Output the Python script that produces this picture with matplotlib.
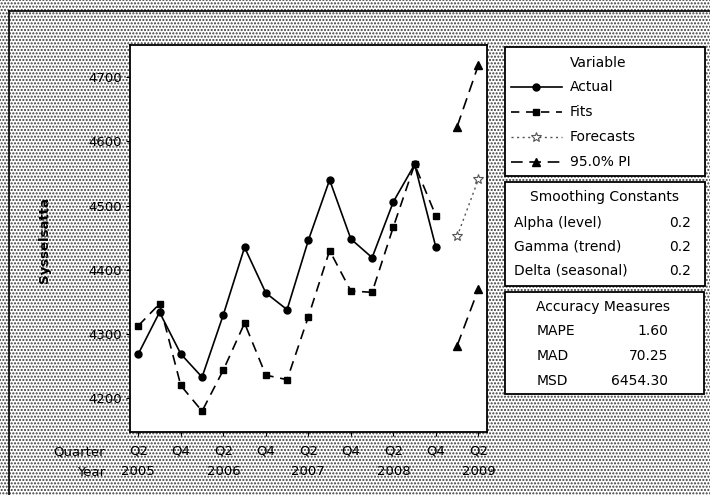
import matplotlib
matplotlib.use("Agg")
import matplotlib.pyplot as plt
from matplotlib.patches import Rectangle
from matplotlib.lines import Line2D

# ---- data ----
quarter_labels = ["Q2", "Q4", "Q2", "Q4", "Q2", "Q4", "Q2", "Q4", "Q2"]
year_labels = ["2005", "2006", "2007", "2008", "2009"]
actual = [4269, 4334, 4269, 4233, 4330, 4435, 4364, 4338, 4446,
          4540, 4448, 4419, 4506, 4564, 4435]
fits = [4313, 4347, 4220, 4180, 4244, 4317, 4236, 4229, 4327,
        4430, 4367, 4365, 4467, 4564, 4484]
forecasts = [4452, 4541]
pi_upper = [4623, 4719]
pi_lower = [4282, 4370]
y_ticks = [4200, 4300, 4400, 4500, 4600, 4700]
smoothing_names = ["Alpha (level)", "Gamma (trend)", "Delta (seasonal)"]
smoothing_values = ["0.2", "0.2", "0.2"]
accuracy_names = ["MAPE", "MAD", "MSD"]
accuracy_values = ["1.60", "70.25", "6454.30"]
legend_names = ["Actual", "Fits", "Forecasts", "95.0% PI"]

W, H = 710, 495
fig = plt.figure(figsize=(W / 100, H / 100), dpi=100)
fig.patch.set_facecolor("white")

def fx(px):
    return px / W

def fy(py):
    return 1 - py / H

# textured background
plt.rcParams["hatch.linewidth"] = 1.0
bg = Rectangle((0, 0), 1, 1, transform=fig.transFigure, facecolor="white",
               edgecolor="#3a3a3a", hatch=".....", lw=0, zorder=-10)
fig.add_artist(bg)
# outer frame lines (left and top)
fig.add_artist(Line2D([fx(9), fx(9)], [0, fy(11)], transform=fig.transFigure,
                      color="black", lw=1.2))
fig.add_artist(Line2D([fx(9), 1], [fy(11), fy(11)], transform=fig.transFigure,
                      color="black", lw=1.2))

ax = fig.add_axes([fx(130), fy(431.7), fx(486.7) - fx(130), fy(45) - fy(431.7)])
ax.set_facecolor("white")

n_act = len(actual)
x_act = list(range(n_act))
x_fc = [n_act + i for i in range(len(forecasts))]

ax.plot(x_act, actual, color="black", lw=1.2, marker="o", ms=5, zorder=3)
ax.plot(x_act, fits, color="black", lw=1.2, ls=(0, (6, 4)), marker="s", ms=5, zorder=3)
ax.plot(x_fc, forecasts, color="#555555", lw=1.0, ls=(0, (1.5, 2.5)), marker="*",
        ms=7, mfc="white", mec="#555555", mew=0.8, zorder=3)
ax.plot(x_fc, pi_upper, color="black", lw=1.2, ls=(0, (7, 4)), marker="^", ms=6, zorder=3)
ax.plot(x_fc, pi_lower, color="black", lw=1.2, ls=(0, (7, 4)), marker="^", ms=6, zorder=3)

ax.set_xlim(-0.39, 16.39)
ax.set_ylim(4148, 4750)
ax.set_yticks(y_ticks)
ax.set_yticklabels([str(v) for v in y_ticks], fontsize=9.5)
qpos = list(range(0, 2 * len(quarter_labels), 2))
ax.set_xticks(qpos)
ax.set_xticklabels(quarter_labels, fontsize=9.5)
ax.tick_params(axis="both", direction="out", length=3, width=0.8, pad=3)
ax.tick_params(axis="x", pad=6)
for s in ax.spines.values():
    s.set_linewidth(1.3)

# year labels under Q2 ticks
ypos = list(range(0, 2 * len(quarter_labels), 4))
for xp, yl in zip(ypos, year_labels):
    ax.text(xp, -0.103, yl, transform=ax.get_xaxis_transform(), ha="center",
            va="center", fontsize=9.5)
fig.text(fx(105), fy(452), "Quarter", ha="right", va="center", fontsize=9.5)
fig.text(fx(105), fy(472), "Year", ha="right", va="center", fontsize=9.5)

fig.text(fx(45), fy(240), "Sysselsatta", rotation=90, ha="center", va="center",
         fontsize=9.5, fontweight="bold")

# ---- legend boxes ----
def box(x0, y0, x1, y1):
    fig.add_artist(Rectangle((fx(x0), fy(y1)), fx(x1) - fx(x0), fy(y0) - fy(y1),
                             transform=fig.transFigure, facecolor="white",
                             edgecolor="black", lw=1.3, zorder=5))

box(505, 47, 705, 176)
box(505, 182, 705, 286)
box(505, 292, 704, 394)

fs = 10
fig.text(fx(598), fy(63), "Variable", ha="center", va="center", fontsize=fs, zorder=6)
rows_y = [87, 112, 137, 162]
styles = [
    dict(color="black", lw=1.2, ls="-", marker="o", ms=5),
    dict(color="black", lw=1.2, ls=(0, (5, 4)), marker="s", ms=5),
    dict(color="#555555", lw=1.0, ls=(0, (1.5, 2.5)), marker="*", ms=7, mfc="white",
         mec="#555555", mew=0.8),
    dict(color="black", lw=1.2, ls=(0, (7, 4)), marker="^", ms=6),
]
for ry, name, st in zip(rows_y, legend_names, styles):
    mk = st.pop("marker")
    ms = st.pop("ms")
    extra = {k: st.pop(k) for k in ["mfc", "mec", "mew"] if k in st}
    fig.add_artist(Line2D([fx(511), fx(562)], [fy(ry), fy(ry)], transform=fig.transFigure,
                          zorder=6, **st))
    fig.add_artist(Line2D([fx(536)], [fy(ry)], transform=fig.transFigure, marker=mk,
                          ms=ms, color=st["color"], ls="none", zorder=7, **extra))
    fig.text(fx(570), fy(ry), name, ha="left", va="center", fontsize=fs, zorder=6)

fig.text(fx(605), fy(197), "Smoothing Constants", ha="center", va="center", fontsize=fs, zorder=6)
for ry, nm, vl in zip([223, 247, 271], smoothing_names, smoothing_values):
    fig.text(fx(514), fy(ry), nm, ha="left", va="center", fontsize=fs, zorder=6)
    fig.text(fx(691), fy(ry), vl, ha="right", va="center", fontsize=fs, zorder=6)

fig.text(fx(603), fy(307), "Accuracy Measures", ha="center", va="center", fontsize=fs, zorder=6)
for ry, nm, vl in zip([331, 356, 381], accuracy_names, accuracy_values):
    fig.text(fx(537), fy(ry), nm, ha="left", va="center", fontsize=fs, zorder=6)
    fig.text(fx(668), fy(ry), vl, ha="right", va="center", fontsize=fs, zorder=6)

fig.savefig("out.png", dpi=100)
